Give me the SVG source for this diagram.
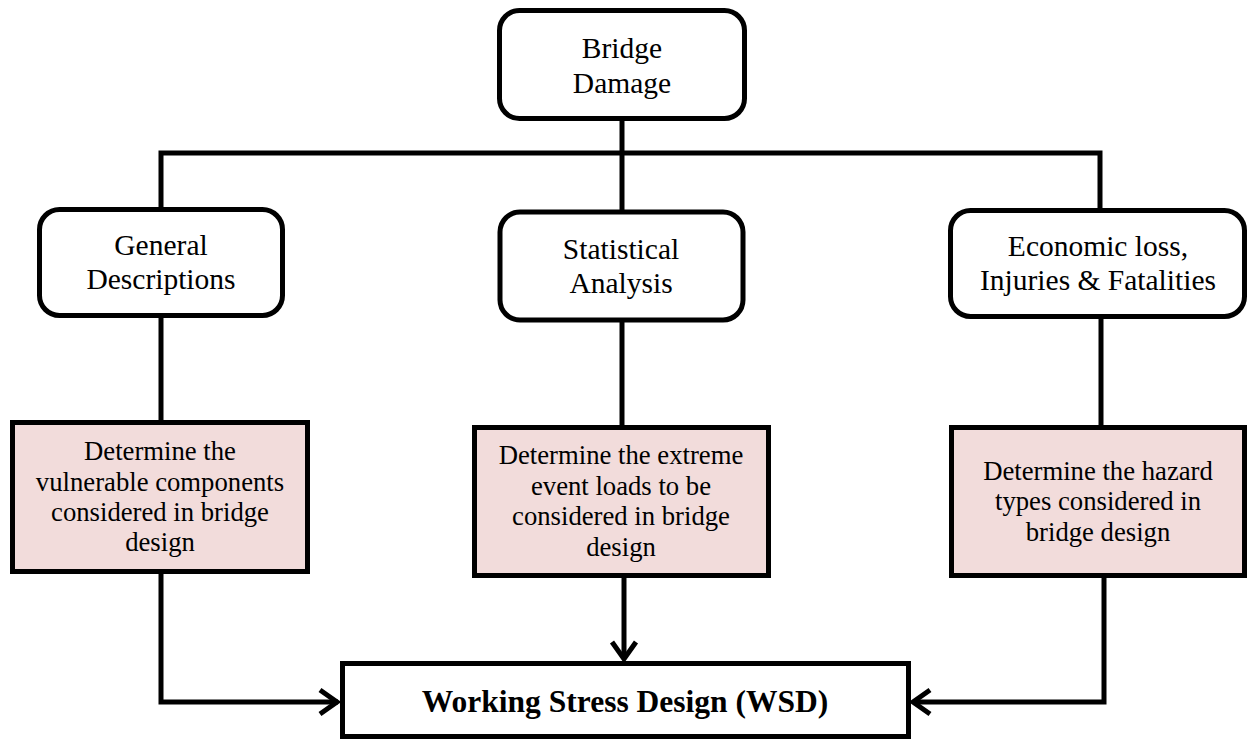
<svg xmlns="http://www.w3.org/2000/svg" width="1248" height="741" viewBox="0 0 1248 741">
<style>
.rbox{fill:#ffffff;stroke:#000;stroke-width:5}
.pbox{fill:#F2DCDB;stroke:#000;stroke-width:5}
.wbox{fill:#ffffff;stroke:#000;stroke-width:5}
.t{font-family:"Liberation Serif","Times New Roman",serif;font-size:29.5px;fill:#000;text-anchor:middle}
.tp{font-family:"Liberation Serif","Times New Roman",serif;font-size:26.7px;fill:#000;text-anchor:middle}
.tb{font-family:"Liberation Serif","Times New Roman",serif;font-size:31.5px;font-weight:bold;fill:#000;text-anchor:middle}
.c{fill:none;stroke:#000;stroke-width:5;stroke-linejoin:miter}
.ah{fill:none;stroke:#000;stroke-width:5;stroke-linejoin:miter;stroke-linecap:butt}
</style>
<rect width="1248" height="741" fill="#ffffff"/>
<g id="connectors">
<path class="c" d="M622 121 V153"/>
<path class="c" d="M161 209 V153 H1100 V212"/>
<path class="c" d="M622 153 V212"/>
<path class="c" d="M161 317 V422"/>
<path class="c" d="M622 321 V427"/>
<path class="c" d="M1101 317 V427"/>
<path class="c" d="M161 574 V702 H338"/>
<path class="ah" d="M320 690 L337 702 L320 714"/>
<path class="c" d="M624 576 V659"/>
<path class="ah" d="M612 642 L624 659 L636 642"/>
<path class="c" d="M1104 576 V702 H913"/>
<path class="ah" d="M930 690 L913 702 L930 714"/>
</g>
<g id="bridge-damage">
<rect class="rbox" x="499.5" y="10.5" width="245" height="108" rx="20"/>
<text class="t" x="622" y="58">Bridge</text>
<text class="t" x="622" y="93">Damage</text>
</g>
<g id="general-descriptions">
<rect class="rbox" x="39.5" y="209.5" width="243" height="106" rx="20"/>
<text class="t" x="161" y="255">General</text>
<text class="t" x="161" y="289">Descriptions</text>
</g>
<g id="statistical-analysis">
<rect class="rbox" x="500" y="212" width="243" height="108" rx="20"/>
<text class="t" x="621" y="259">Statistical</text>
<text class="t" x="621" y="293">Analysis</text>
</g>
<g id="economic-loss">
<rect class="rbox" x="950.5" y="210.5" width="294" height="106" rx="20"/>
<text class="t" x="1098" y="256">Economic loss,</text>
<text class="t" x="1098" y="290">Injuries &amp; Fatalities</text>
</g>
<g id="vulnerable-components">
<rect class="pbox" x="12.5" y="422.5" width="295" height="149"/>
<text class="tp" x="160" y="460">Determine the</text>
<text class="tp" x="160" y="491">vulnerable components</text>
<text class="tp" x="160" y="521">considered in bridge</text>
<text class="tp" x="160" y="551">design</text>
</g>
<g id="extreme-event-loads">
<rect class="pbox" x="474.5" y="427.5" width="294" height="148"/>
<text class="tp" x="621" y="464">Determine the extreme</text>
<text class="tp" x="621" y="495">event loads to be</text>
<text class="tp" x="621" y="525">considered in bridge</text>
<text class="tp" x="621" y="556">design</text>
</g>
<g id="hazard-types">
<rect class="pbox" x="951.5" y="427.5" width="293" height="148"/>
<text class="tp" x="1098" y="480">Determine the hazard</text>
<text class="tp" x="1098" y="510">types considered in</text>
<text class="tp" x="1098" y="541">bridge design</text>
</g>
<g id="wsd">
<rect class="wbox" x="342.5" y="663.5" width="566" height="73"/>
<text class="tb" x="625" y="712">Working Stress Design (WSD)</text>
</g>
</svg>
